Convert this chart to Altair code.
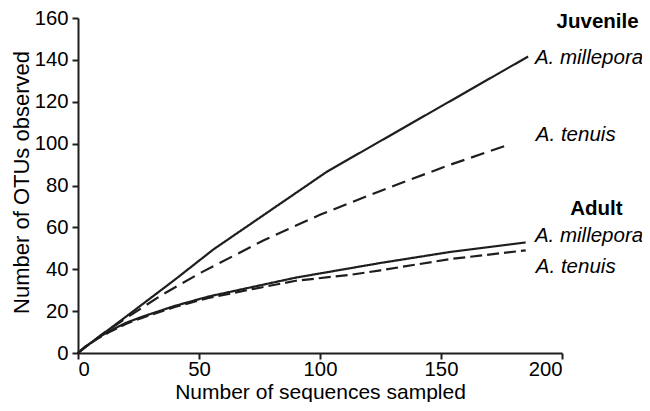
import altair as alt
import pandas as pd

# ---- data ----
juv_mil_x = [0, 3, 20, 40, 56, 103, 186]
juv_mil_y = [0, 2.8, 17.5, 35, 49.5, 86.7, 141.6]

juv_ten_x = [0, 3, 10, 21, 35, 51, 77, 100, 113, 133, 154, 178]
juv_ten_y = [0, 2.8, 9, 17.5, 28, 38.5, 54, 66, 72, 81, 90, 99.5]

adu_mil_x = [0, 3, 8, 13, 20, 27, 40, 54, 72, 90, 113, 125, 154, 185]
adu_mil_y = [0, 3, 7, 10.5, 14.5, 17.5, 22.5, 27, 31.5, 36, 40.6, 43, 48.3, 52.8]

adu_ten_x = [0, 3, 8, 13, 20, 27, 40, 54, 72, 90, 113, 125, 154, 185]
adu_ten_y = [0, 3, 6.8, 10, 14, 17, 22, 26.3, 30.5, 34.5, 37.4, 39.5, 44.9, 49.0]

series_names = ["Juvenile A. millepora", "Juvenile A. tenuis",
                "Adult A. millepora", "Adult A. tenuis"]

group_labels = ["Juvenile", "Adult"]
group_label_y = [158, 68.7]
species_labels = ["A. millepora", "A. tenuis", "A. millepora", "A. tenuis"]
species_label_y = [141, 104.2, 56, 41.2]

x_ticks = [0, 50, 100, 150, 200]
y_ticks = [0, 20, 40, 60, 80, 100, 120, 140, 160]

rows = []
for name, xs, ys in zip(series_names,
                        [juv_mil_x, juv_ten_x, adu_mil_x, adu_ten_x],
                        [juv_mil_y, juv_ten_y, adu_mil_y, adu_ten_y]):
    for i, (a, b) in enumerate(zip(xs, ys)):
        rows.append({"series": name, "x": a, "y": b, "order": i})
df = pd.DataFrame(rows)

gdf = pd.DataFrame({"label": group_labels, "y": group_label_y, "x": [214.7, 214.2]})
sdf = pd.DataFrame({"label": species_labels, "y": species_label_y,
                    "x": [188.8, 189.2, 188.8, 189.2]})

ink = "#1e1e1e"
font = "Liberation Sans"

lines = alt.Chart(df).mark_line(strokeWidth=2.2, color=ink, clip=False).encode(
    x=alt.X("x:Q", scale=alt.Scale(domain=[0, 200], nice=False),
            axis=alt.Axis(values=x_ticks, title="Number of sequences sampled")),
    y=alt.Y("y:Q", scale=alt.Scale(domain=[0, 160], nice=False),
            axis=alt.Axis(values=y_ticks, title="Number of OTUs observed")),
    detail="series:N",
    order="order:Q",
    strokeDash=alt.StrokeDash("series:N",
                              scale=alt.Scale(domain=series_names,
                                              range=[[1, 0], [14, 7], [1, 0], [12, 5]]),
                              legend=None),
)

groups = alt.Chart(gdf).mark_text(font=font, fontSize=20.5, fontWeight="bold",
                                  color="black", align="center", baseline="middle").encode(
    x="x:Q", y="y:Q", text="label:N")

species = alt.Chart(sdf).mark_text(font=font, fontSize=20.5, fontStyle="italic",
                                   color="black", align="left", baseline="middle").encode(
    x="x:Q", y="y:Q", text="label:N")

chart = alt.layer(lines, groups, species).properties(
    width=484, height=335,
    autosize=alt.AutoSizeParams(type="none"),
    padding={"left": 70, "top": 10, "right": 80, "bottom": 49},
).configure_view(stroke=None).configure_axis(
    grid=False,
    domainColor=ink, domainWidth=2,
    tickColor=ink, tickWidth=2, tickSize=6,
    labelFont=font, labelFontSize=20.3, labelColor="black",
    titleFont=font, titleFontWeight="normal", titleColor="black",
).configure_axisY(
    labelPadding=4, titleFontSize=22, titleX=-50, titleY=164,
    titleBaseline="alphabetic", titleAlign="center", titleAngle=270,
).configure_axisX(
    labelPadding=0, titleFontSize=21, titleBaseline="alphabetic", titleY=45.5)

chart.save("out.html", embed_options={"renderer": "svg", "actions": False})
